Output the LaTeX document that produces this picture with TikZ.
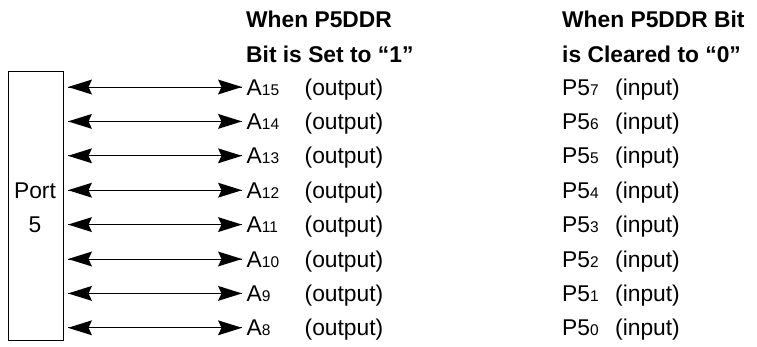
\documentclass[tikz,border=0pt]{standalone}
\usepackage{fontspec}
\setmainfont{Liberation Sans}
\tikzset{
  lbl/.style={anchor=base west, inner sep=0pt, font=\fontsize{22.8}{26}\selectfont},
  hdr/.style={anchor=base west, inner sep=0pt, font=\fontsize{22.8}{26}\selectfont\bfseries},
  bus/.style={line width=0.9pt},
  headfill/.style={fill=black},
  portbox/.style={draw, line width=0.8pt, inner sep=0pt}
}
\newcommand{\sbs}[1]{{\fontsize{15.5}{16}\selectfont #1}}
\begin{document}
\begin{tikzpicture}[x=1pt,y=-1pt]
\useasboundingbox (0,0) rectangle (757,346);
\node[portbox, minimum width=55pt, minimum height=269pt, anchor=north west] (port) at (7.5,71) {};
\node[lbl, anchor=base] (portlbl) at (35,198.5) {Port};
\node[lbl, anchor=base] (portnum) at (35,232.5) {5};
\node[hdr] (h1a) at (246,27) {When P5DDR};
\node[hdr] (h1b) at (246,62) {Bit is Set to “1”};
\node[hdr] (h2a) at (562,27) {When P5DDR Bit};
\node[hdr] (h2b) at (562,62) {is Cleared to “0”};
\foreach \i/\a/\p in {0/15/7,1/14/6,2/13/5,3/12/4,4/11/3,5/10/2,6/9/1,7/8/0}{
  \pgfmathsetmacro{\yy}{87+34.4*\i}
  \pgfmathsetmacro{\bb}{\yy+8}
  \coordinate (l\i) at (68,\yy);
  \coordinate (r\i) at (242,\yy);
  \node[lbl] (a\i) at (246.5,\bb) {A\sbs{\a}};
  \draw[bus] (l\i) -- (r\i);
  \fill[headfill] (l\i) -- ++(24,-7.5) -- ++(-3.5,7.5) -- ++(3.5,7.5) -- cycle;
  \fill[headfill] (r\i) -- ++(-24,-7.5) -- ++(3.5,7.5) -- ++(-3.5,7.5) -- cycle;
  \node[lbl] (o\i) at (304.5,\bb) {(output)};
  \node[lbl] (p\i) at (562,\bb) {P5\sbs{\p}};
  \node[lbl] (in\i) at (615,\bb) {(input)};
}
\end{tikzpicture}
\end{document}
